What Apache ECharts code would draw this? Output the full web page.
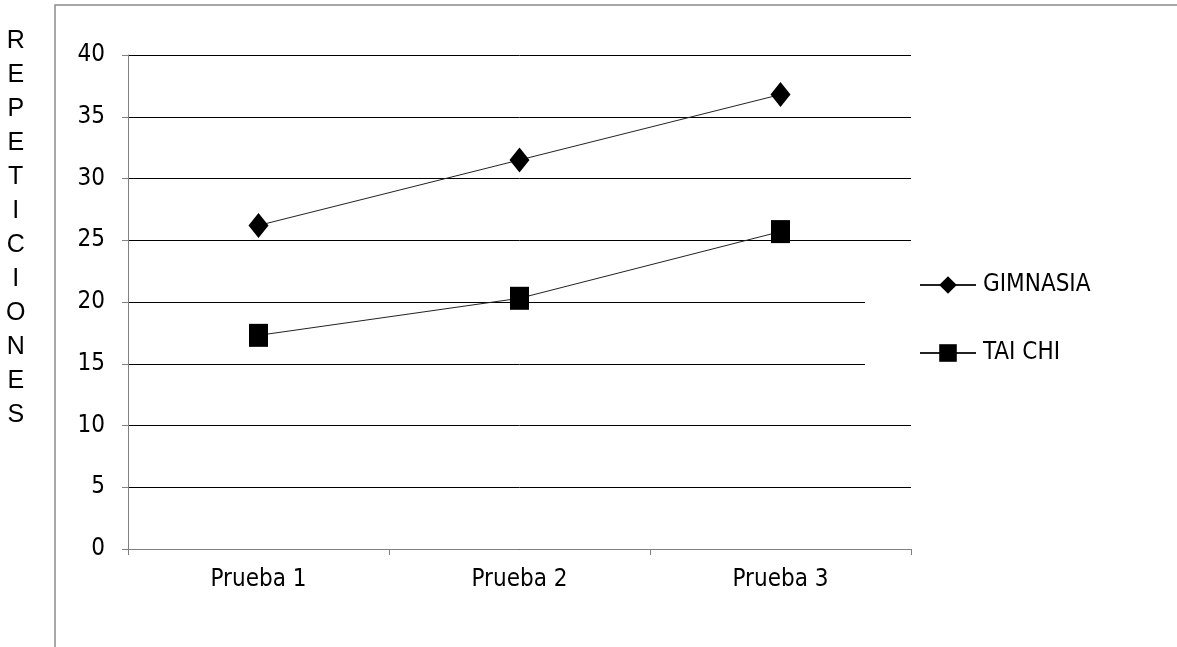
<!DOCTYPE html>
<html>
<head>
<meta charset="utf-8">
<script src="https://cdn.jsdelivr.net/npm/echarts@6/dist/echarts.min.js"></script>
<style>
html,body{margin:0;padding:0;background:#fff;}
#chart{width:1177px;height:647px;}
</style>
</head>
<body>
<div id="chart"></div>
<script>
const categories = ['Prueba 1', 'Prueba 2', 'Prueba 3'];
const gimnasia = [26.2, 31.5, 36.8];
const taichi = [17.3, 20.3, 25.7];
const yTitle = 'REPETICIONES';

const narrow = '"Liberation Sans Narrow", "DejaVu Sans Condensed", "Liberation Sans", sans-serif';
const chart = echarts.init(document.getElementById('chart'));
chart.setOption({
  animation: false,
  backgroundColor: '#fff',
  grid: { left: 128, right: 266, top: 55, bottom: 98, containLabel: false },
  xAxis: {
    type: 'category',
    data: categories,
    boundaryGap: true,
    axisLine: { lineStyle: { color: '#808080', width: 1 } },
    axisTick: { show: true, alignWithLabel: false, length: 6, lineStyle: { color: '#808080' } },
    axisLabel: { color: '#000', fontFamily: narrow, fontSize: 24, margin: 19 },
    splitLine: { show: false }
  },
  yAxis: {
    type: 'value',
    min: 0, max: 40, interval: 5,
    axisLine: { show: true, lineStyle: { color: '#808080', width: 1 } },
    axisTick: { show: true, length: 6, lineStyle: { color: '#808080' } },
    axisLabel: { color: '#000', fontFamily: narrow, fontSize: 24, margin: 23 },
    splitLine: { show: true, lineStyle: { color: '#000', width: 1 } }
  },
  legend: {
    orient: 'vertical',
    left: 865, top: 252,
    backgroundColor: '#fff',
    padding: [21, 30, 21, 54],
    itemWidth: 56, itemHeight: 22,
    itemGap: 44,
    textStyle: { color: '#000', fontFamily: narrow, fontSize: 24, lineHeight: 22, padding: [0, 0, 0, 2] },
    data: ['GIMNASIA', 'TAI CHI']
  },
  graphic: [
    { type: 'rect', shape: { x: 55, y: 5, width: 1200, height: 700 }, style: { fill: 'none', stroke: '#8a8a8a', lineWidth: 1.5 }, silent: true, z: 0 },
    { type: 'text', left: 6, top: 24, style: { text: yTitle.split('').join('\n'), font: '25px "Liberation Sans", Arial, sans-serif', lineHeight: 34, fill: '#000', textAlign: 'center' } }
  ],
  series: [
    {
      name: 'GIMNASIA', type: 'line', data: gimnasia,
      symbol: 'diamond', symbolSize: [20, 25],
      itemStyle: { color: '#000' },
      lineStyle: { color: '#222', width: 1 },
      z: 3
    },
    {
      name: 'TAI CHI', type: 'line', data: taichi,
      symbol: 'rect', symbolSize: [19, 23],
      itemStyle: { color: '#000' },
      lineStyle: { color: '#222', width: 1 },
      z: 3
    }
  ]
});
</script>
</body>
</html>
